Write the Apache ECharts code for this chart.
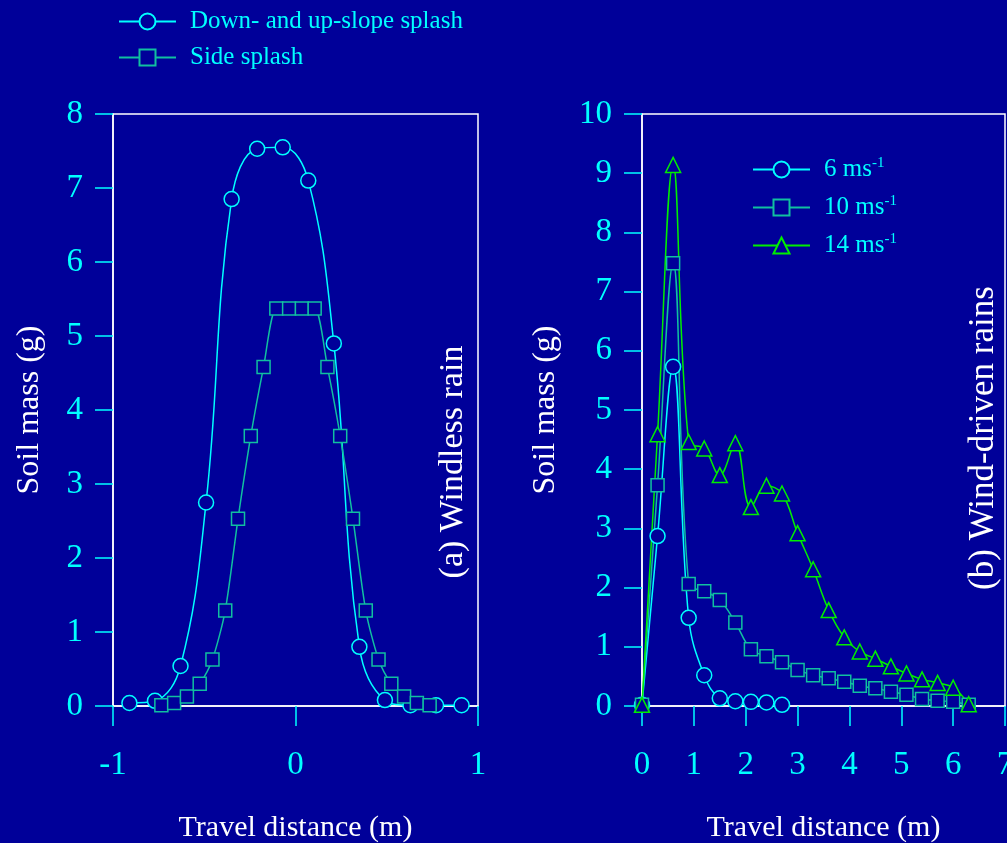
<!DOCTYPE html>
<html>
<head>
<meta charset="utf-8">
<script src="https://cdn.jsdelivr.net/npm/echarts@6/dist/echarts.min.js"></script>
<style>
html,body{margin:0;padding:0;background:#000099;overflow:hidden;}
#chart{width:1007px;height:843px;}
</style>
</head>
<body>
<div id="chart"></div>
<script>
// ---- Data ----
const leftCircleX = [-0.91,-0.77,-0.63,-0.49,-0.35,-0.21,-0.07,0.07,0.21,0.35,0.49,0.63,0.77,0.91];
const leftCircleY = [0.04,0.07,0.54,2.75,6.85,7.53,7.55,7.10,4.90,0.80,0.08,0.01,0.01,0.01];
const leftSquareX = [-0.735,-0.665,-0.595,-0.525,-0.455,-0.385,-0.315,-0.245,-0.175,-0.105,-0.035,0.035,0.105,0.175,0.245,0.315,0.385,0.455,0.525,0.595,0.665,0.735];
const leftSquareY = [0.01,0.04,0.13,0.30,0.63,1.29,2.53,3.65,4.58,5.37,5.37,5.37,5.37,4.58,3.65,2.53,1.29,0.63,0.30,0.13,0.04,0.01];

const wind6X = [0,0.3,0.6,0.9,1.2,1.5,1.8,2.1,2.4,2.7];
const wind6Y = [0.02,2.87,5.73,1.49,0.52,0.13,0.08,0.07,0.06,0.02];
const windX = [0,0.3,0.6,0.9,1.2,1.5,1.8,2.1,2.4,2.7,3.0,3.3,3.6,3.9,4.2,4.5,4.8,5.1,5.4,5.7,6.0,6.3];
const wind10Y = [0.02,3.73,7.48,2.06,1.94,1.79,1.41,0.96,0.84,0.74,0.61,0.52,0.47,0.41,0.34,0.30,0.24,0.19,0.12,0.09,0.07,0.02];
const wind14Y = [0.02,4.59,9.14,4.46,4.35,3.90,4.44,3.36,3.72,3.59,2.92,2.31,1.62,1.16,0.92,0.80,0.67,0.55,0.45,0.39,0.31,0.03];

const leftNames = ['Down- and up-slope splash','Side splash'];
const rightNames = ['6 ms-1','10 ms-1','14 ms-1'];
const rightLabels = {'6 ms-1':'6 ms','10 ms-1':'10 ms','14 ms-1':'14 ms'};
const xTitle = 'Travel distance (m)';
const yTitle = 'Soil mass (g)';
const panelA = '(a) Windless rain';
const panelB = '(b) Wind-driven rains';

// ---- Style ----
const BG = '#000099';
const CYAN = '#00FFFF';
const TEAL = '#10C0A0';
const GREEN = '#00EE00';
const FONT = 'Liberation Serif';

function pairs(xs, ys){ return xs.map((x,i)=>[x, ys[i]]); }

function xAxisCfg(grid, min, max){
  return {
    type:'value', gridIndex:grid, min:min, max:max, interval:1,
    name:xTitle, nameLocation:'middle', nameGap:107,
    nameTextStyle:{color:'#fff', fontFamily:FONT, fontSize:30},
    axisLine:{show:true, onZero:false, lineStyle:{color:'#fff', width:1.5}},
    axisTick:{show:true, length:20, lineStyle:{color:CYAN, width:1.5}},
    axisLabel:{color:CYAN, fontFamily:FONT, fontSize:33, margin:43},
    splitLine:{show:false}
  };
}
function yAxisCfg(grid, max, gap){
  return {
    type:'value', gridIndex:grid, min:0, max:max, interval:1,
    name:yTitle, nameLocation:'middle', nameGap:gap,
    nameTextStyle:{color:'#fff', fontFamily:FONT, fontSize:32},
    axisLine:{show:true, onZero:false, lineStyle:{color:'#fff', width:1.5}},
    axisTick:{show:true, length:18, lineStyle:{color:CYAN, width:1.5}},
    axisLabel:{color:CYAN, fontFamily:FONT, fontSize:33, margin:30, padding:[5,0,0,0]},
    splitLine:{show:false}
  };
}
function lineSeries(name, data, color, symbol, size, xi, smooth){
  return {
    type:'line', name:name, data:data, xAxisIndex:xi, yAxisIndex:xi,
    symbol:symbol, symbolSize:size, smooth:smooth,
    color:color,
    lineStyle:{color:color, width:1.5},
    itemStyle:{color:BG, borderColor:color, borderWidth:1.5},
    emphasis:{disabled:true}, animation:false, z:2
  };
}

const chart = echarts.init(document.getElementById('chart'), null, {renderer:'canvas'});
chart.setOption({
  backgroundColor:BG,
  animation:false,
  grid:[
    {left:113, top:114, width:365, height:592, show:true, borderColor:'#fff', borderWidth:1.5, backgroundColor:'transparent', outerBoundsMode:'none', containLabel:false},
    {left:642, top:114, width:363, height:592, show:true, borderColor:'#fff', borderWidth:1.5, backgroundColor:'transparent', outerBoundsMode:'none', containLabel:false}
  ],
  xAxis:[xAxisCfg(0,-1,1), xAxisCfg(1,0,7)],
  yAxis:[yAxisCfg(0,8,67), yAxisCfg(1,10,80)],
  legend:[
    {
      data:leftNames, orient:'vertical', left:113, top:4, itemGap:11,
      itemWidth:57, itemHeight:20,
      textStyle:{color:CYAN, fontFamily:FONT, fontSize:25, padding:[0,0,0,9]},
      selectedMode:false
    },
    {
      data:rightNames, orient:'vertical', left:747, top:151, itemGap:12,
      itemWidth:57, itemHeight:20,
      formatter:function(n){ return '{n|' + rightLabels[n] + '}{s|-1}'; },
      textStyle:{color:CYAN, fontFamily:FONT, fontSize:25, padding:[0,0,0,9],
        rich:{
          n:{color:CYAN, fontFamily:FONT, fontSize:25},
          s:{color:CYAN, fontFamily:FONT, fontSize:15, verticalAlign:'top', padding:[0,0,12,0]}
        }},
      selectedMode:false
    }
  ],
  series:[
    lineSeries(leftNames[0], pairs(leftCircleX, leftCircleY), CYAN, 'circle', 15, 0, 0.4),
    lineSeries(leftNames[1], pairs(leftSquareX, leftSquareY), TEAL, 'rect', 13, 0, 0.25),
    lineSeries(rightNames[0], pairs(wind6X, wind6Y), CYAN, 'circle', 15, 1, 0.4),
    lineSeries(rightNames[1], pairs(windX, wind10Y), TEAL, 'rect', 13, 1, 0.4),
    lineSeries(rightNames[2], pairs(windX, wind14Y), GREEN, 'triangle', 15, 1, 0.4)
  ],
  graphic:[
    {type:'text', x:453, y:462, rotation:Math.PI/2,
      style:{text:panelA, fill:'#fff', font:'34px "Liberation Serif"', align:'center', verticalAlign:'middle'}},
    {type:'text', x:984, y:438, rotation:Math.PI/2,
      style:{text:panelB, fill:'#fff', font:'35px "Liberation Serif"', align:'center', verticalAlign:'middle'}}
  ]
});
</script>
</body>
</html>
